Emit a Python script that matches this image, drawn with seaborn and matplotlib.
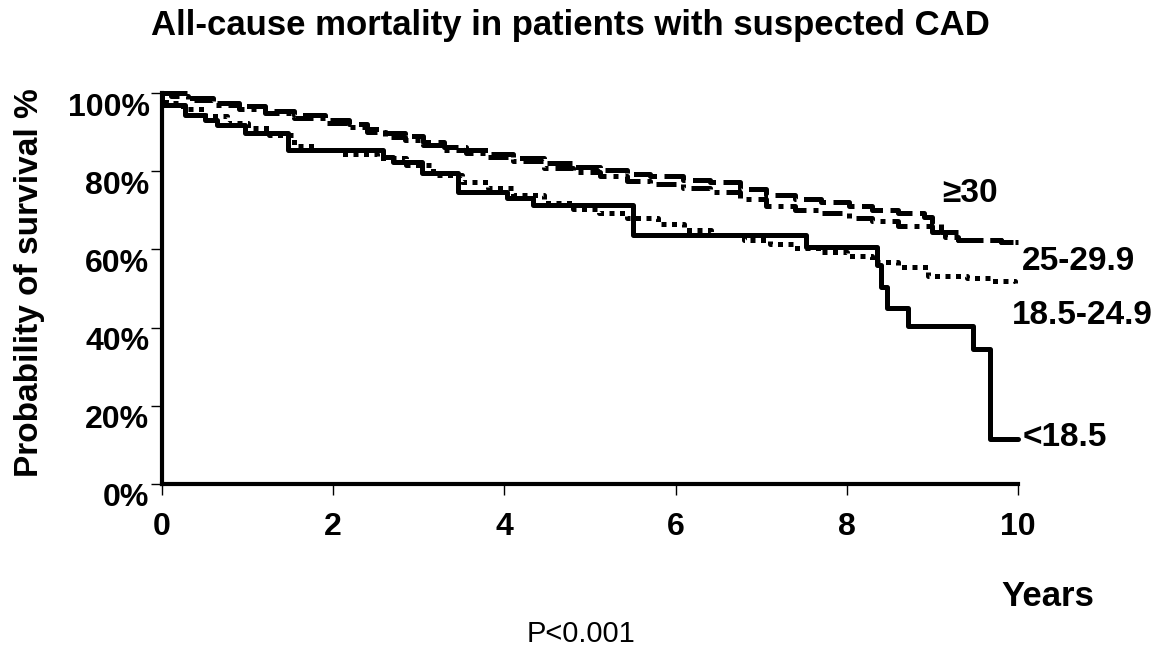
import matplotlib
matplotlib.use("Agg")
import matplotlib.pyplot as plt
import matplotlib.transforms as mtransforms
import seaborn as sns
import pandas as pd

# ---- data ----
years_lt185 = [0, 0.0, 0.27, 0.50, 0.64, 0.97, 1.47, 2.58, 2.70, 3.04, 3.46, 4.03, 4.33, 5.50, 7.52, 8.35, 8.40, 8.47, 8.72, 9.47, 9.67, 10.0]
surv_lt185 = [100, 96.9, 94.4, 93.1, 91.8, 89.8, 85.4, 83.6, 82.3, 79.5, 74.7, 73.1, 71.4, 63.7, 60.5, 56.0, 50.5, 45.0, 40.5, 34.5, 11.5, 11.5]

years_185_249 = [0, 0.05, 0.25, 0.5, 0.76, 1.0, 1.25, 1.54, 1.8, 2.1, 2.51, 2.85, 3.17, 3.5, 3.81, 4.1, 4.46, 4.8, 5.1, 5.43,
                 5.8, 6.1, 6.41, 6.8, 7.1, 7.38, 7.7, 8.0, 8.29, 8.6, 8.95, 9.4, 9.7, 9.97]
surv_185_249 = [100, 97.5, 96.0, 94.0, 92.3, 91.0, 89.3, 86.5, 85.5, 84.5, 83.4, 81.5, 79.0, 77.3, 75.7, 74.0, 71.8, 70.3, 69.3, 68.0,
                66.5, 65.0, 63.7, 62.5, 61.5, 60.4, 59.3, 58.2, 56.8, 55.5, 53.2, 52.6, 52.0, 51.4]

years_25_299 = [0, 0.1, 0.3, 0.6, 0.9, 1.2, 1.54, 1.9, 2.18, 2.4, 2.6, 2.84, 3.05, 3.3, 3.55, 3.81, 4.1, 4.46, 4.8, 5.12,
                5.43, 5.7, 6.09, 6.4, 6.75, 7.06, 7.4, 7.7, 8.03, 8.3, 8.6, 9.0, 9.15, 9.3, 9.8, 10.0]
surv_25_299 = [100, 99.3, 98.3, 97.0, 96.0, 94.9, 93.6, 92.3, 91.3, 90.0, 88.8, 88.0, 86.7, 85.5, 84.6, 83.7, 82.5, 80.8, 79.8, 78.9,
               77.5, 76.8, 75.6, 74.8, 72.8, 71.2, 70.1, 69.4, 68.0, 67.2, 66.0, 64.5, 63.2, 62.4, 62.0, 62.0]

years_ge30 = [0, 0.3, 0.6, 0.9, 1.2, 1.54, 1.9, 2.18, 2.4, 2.6, 2.84, 3.05, 3.3, 3.55, 3.81, 4.1, 4.46, 4.8, 5.12,
              5.43, 5.7, 6.09, 6.4, 6.75, 7.06, 7.4, 7.7, 8.03, 8.3, 8.6, 8.9, 9.0, 9.1, 9.3, 9.8, 10.0]
surv_ge30 = [100, 98.7, 97.5, 96.6, 95.5, 94.3, 93.0, 92.0, 90.8, 89.8, 89.0, 87.5, 86.3, 85.5, 84.5, 83.3, 82.0, 81.0, 80.3,
             79.3, 78.7, 77.8, 77.3, 75.5, 73.8, 72.8, 72.0, 71.0, 70.1, 69.3, 68.3, 66.5, 64.5, 62.4, 62.0, 62.0]

group_labels = ["<18.5", "18.5-24.9", "25-29.9", "\u226530"]
x_ticks = [0, 2, 4, 6, 8, 10]
y_ticks = [0, 20, 40, 60, 80, 100]
y_ticklabels = ["0%", "20%", "40%", "60%", "80%", "100%"]

sns.set_theme(style="white")
plt.rcParams["font.family"] = ["Liberation Sans", "DejaVu Sans"]
plt.rcParams["text.color"] = "black"
plt.rcParams["axes.labelcolor"] = "black"
plt.rcParams["xtick.color"] = "black"
plt.rcParams["ytick.color"] = "black"

fig = plt.figure(figsize=(11.65, 6.51), dpi=100)
ax = fig.add_axes([162 / 1165, 1 - 484 / 651, (1018 - 162) / 1165, (484 - 93) / 651])

series = [
    (years_lt185, surv_lt185, "-", 3.6),
    (years_185_249, surv_185_249, (0, (1, 1.1)), 3.6),
    (years_25_299, surv_25_299, (0, (4, 1.4, 1, 1.4)), 3.6),
    (years_ge30, surv_ge30, (0, (5, 1.5)), 3.6),
]
for (xs, ys, ls, lw), name in zip(series, group_labels):
    df = pd.DataFrame({"Years": xs, "Survival": ys})
    sns.lineplot(data=df, x="Years", y="Survival", ax=ax, color="black",
                 linestyle=ls, linewidth=lw, drawstyle="steps-post",
                 estimator=None, sort=False, legend=False, clip_on=False,
                 dash_capstyle="butt")

ax.set_xlim(0, 10)
ax.set_ylim(0, 100)
ax.set_xticks(x_ticks)
ax.set_xticklabels([str(t) for t in x_ticks])
ax.set_yticks(y_ticks)
ax.set_yticklabels(y_ticklabels)
ax.set_xlabel("")
ax.set_ylabel("Probability of survival %", fontsize=24, fontweight="bold", va="center")
ax.yaxis.set_label_coords(-0.155, 0.514)

for side in ["top", "right"]:
    ax.spines[side].set_visible(False)
for side in ["left", "bottom"]:
    ax.spines[side].set_linewidth(3.0)
    ax.spines[side].set_color("black")

ax.tick_params(axis="both", which="both", direction="out", length=8, width=1,
               color="black", labelcolor="black", left=True, bottom=True)
ax.tick_params(axis="x", pad=12, labelsize=23)
ax.tick_params(axis="y", pad=1, labelsize=23)
for lab in ax.get_xticklabels() + ax.get_yticklabels():
    lab.set_fontweight("bold")
offset = mtransforms.ScaledTranslation(0, -0.11, fig.dpi_scale_trans)
for lab in ax.get_yticklabels():
    lab.set_transform(lab.get_transform() + offset)

# curve labels
ax.text(9.12, 74.4, group_labels[3], fontsize=24, fontweight="bold", va="center", ha="left")
ax.text(10.05, 56.8, group_labels[2], fontsize=24, fontweight="bold", va="center", ha="left")
ax.text(9.93, 43.0, group_labels[1], fontsize=24, fontweight="bold", va="center", ha="left")
ax.text(10.05, 11.8, group_labels[0], fontsize=24, fontweight="bold", va="center", ha="left")

fig.text(570 / 1165, 1 - 25 / 651, "All-cause mortality in patients with suspected CAD",
         fontsize=25, fontweight="bold", ha="center", va="center")
fig.text(1048 / 1165, 1 - 597 / 651, "Years", fontsize=25, fontweight="bold", ha="center", va="center")
fig.text(581 / 1165, 1 - 634 / 651, "P<0.001", fontsize=21, ha="center", va="center")

fig.savefig("out.png", dpi=100, facecolor="white")
